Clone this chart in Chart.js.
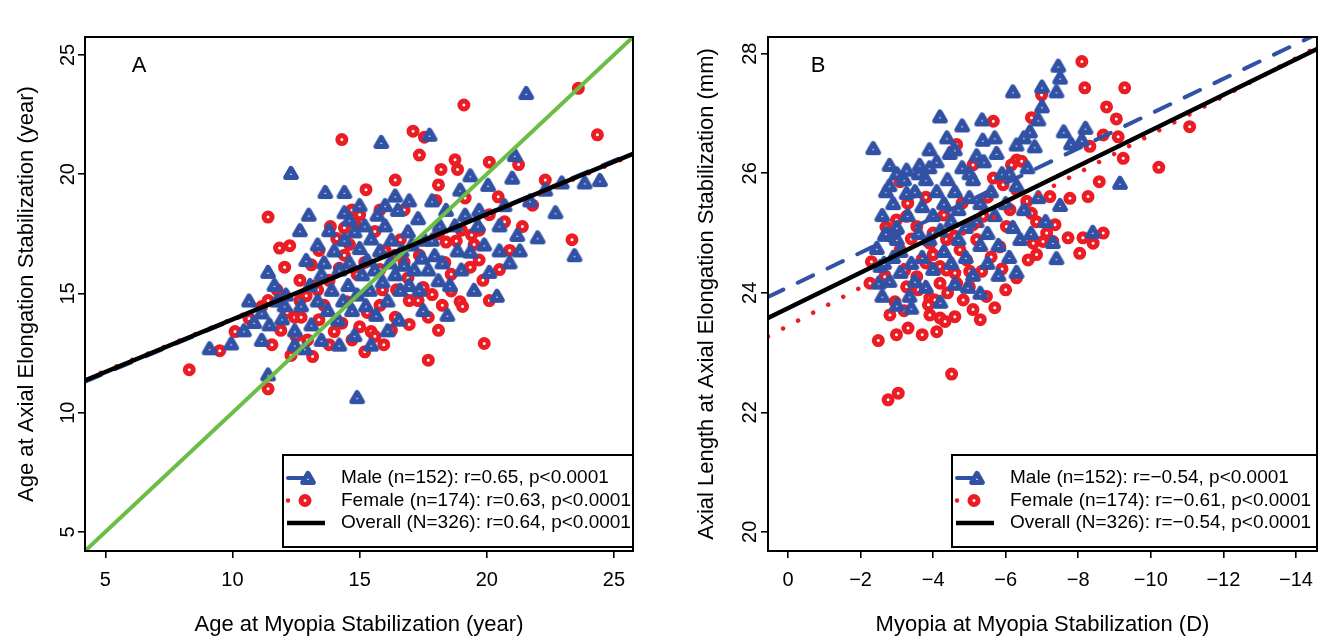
<!DOCTYPE html>
<html><head><meta charset="utf-8">
<script src="https://cdn.jsdelivr.net/npm/chart.js@4.4.1/dist/chart.umd.min.js"></script>
<style>
html,body{margin:0;padding:0;background:#fff;}
#wrap{position:relative;width:1331px;height:643px;overflow:hidden;background:#fff;}
#ca{position:absolute;left:0;top:0;}
#cb{position:absolute;left:665px;top:0;}
</style></head><body>
<div id="wrap"><canvas id="ca" width="665" height="643"></canvas><canvas id="cb" width="666" height="643"></canvas></div>
<script>
// ---------------- DATA ----------------
// Panel A: Age at myopia stabilization (x) vs age at axial elongation stabilization (y), years
const ticksA = [5, 10, 15, 20, 25];
const rangeA = [4.2, 25.75];
const maleA = [[9.1,12.7],[9.95,12.9],[10.45,13.45],[10.65,14.7],[10.85,13.8],[11.15,14.2],[11.4,15.9],[11.4,11.6],[11.65,15.35],[11.75,14.7],[11.95,13.95],[12.3,20.05],[12.1,14.95],[12.45,13.45],[12.65,17.65],[12.7,14.5],[12.9,16.4],[13.05,15.35],[13.1,13.7],[13.35,17.05],[13.35,14.7],[13.5,15.8],[13.65,19.25],[13.6,16.3],[13.75,14.3],[13.9,15.15],[14.0,16.8],[14.15,13.9],[14.2,16.0],[14.35,14.7],[14.4,19.25],[14.4,17.25],[14.55,15.35],[14.6,16.3],[14.7,14.3],[14.8,17.6],[14.9,10.65],[14.9,14.95],[15.0,16.9],[15.1,15.8],[15.2,17.85],[15.25,14.5],[15.3,16.4],[15.4,15.15],[15.45,17.3],[15.6,16.0],[15.65,14.1],[15.8,16.8],[15.85,21.35],[15.9,15.5],[16.0,17.85],[16.1,14.7],[16.2,16.3],[16.25,17.25],[16.4,15.8],[16.5,18.5],[16.6,15.15],[16.65,16.8],[16.75,16.2],[16.9,17.6],[16.95,15.35],[17.05,17.05],[17.15,16.0],[17.3,18.15],[17.35,15.15],[17.45,16.5],[17.55,17.25],[17.7,16.0],[17.75,21.65],[17.85,18.9],[17.95,16.6],[18.1,15.55],[18.15,17.85],[18.25,16.3],[18.4,18.5],[18.55,15.35],[18.75,17.85],[18.85,16.8],[19.0,16.0],[19.15,18.3],[19.35,16.75],[19.5,15.15],[19.65,17.85],[19.7,18.5],[19.9,17.05],[20.1,15.9],[20.4,14.9],[20.5,16.8],[20.7,18.7],[20.9,16.3],[21.0,19.85],[21.1,20.8],[21.2,17.45],[21.3,16.8],[21.55,23.4],[21.7,18.9],[22.0,17.35],[22.3,19.35],[22.7,18.4],[22.95,19.65],[23.45,16.6],[23.85,19.65],[24.45,19.75],[18.45,14.1],[17.5,14.3],[16.55,13.9],[16.1,13.45],[15.45,12.85],[14.8,13.25],[14.2,12.85],[13.5,13.05],[12.85,12.7],[12.45,12.85],[12.05,14.5],[11.45,13.7],[11.15,13.05],[14.6,18.1],[13.8,17.65],[13.0,18.3],[16.4,19.1],[16.95,18.9],[15.0,18.7],[14.4,18.4],[18.95,19.35],[19.35,19.95],[20.05,19.55],[20.5,17.85],[17.85,17.25],[16.0,18.7],[15.7,18.3]];
const femaleA = [[8.3,11.8],[9.5,12.6],[10.1,13.4],[11.4,18.2],[11.4,11.0],[11.4,14.7],[11.85,16.9],[12.05,16.1],[12.25,17.0],[12.15,14.2],[12.45,14.0],[12.7,14.0],[12.95,13.05],[12.3,12.4],[12.5,13.2],[13.15,12.35],[13.2,15.3],[13.4,16.8],[13.85,17.8],[14.1,17.3],[14.3,21.45],[14.4,17.75],[14.6,17.05],[14.7,18.5],[14.8,17.95],[15.0,18.3],[14.5,14.65],[14.3,13.75],[15.0,13.6],[15.45,13.4],[15.3,14.2],[15.6,13.2],[15.8,14.5],[15.9,15.15],[16.25,13.45],[16.4,16.6],[16.45,15.15],[16.75,18.5],[16.75,16.3],[16.95,14.7],[17.1,21.8],[17.3,14.7],[17.35,20.8],[17.55,21.55],[17.7,12.2],[17.85,14.95],[18.0,18.9],[18.1,19.55],[18.1,17.5],[18.2,20.2],[18.25,14.5],[18.4,17.15],[18.75,20.6],[18.85,20.2],[18.95,14.65],[19.1,22.9],[19.15,19.0],[19.35,16.1],[19.4,17.45],[19.7,16.4],[19.85,15.55],[19.9,12.9],[20.1,20.5],[20.45,19.05],[20.7,18.0],[21.25,20.4],[21.4,17.8],[22.3,19.75],[23.35,17.25],[23.6,23.6],[24.35,21.65],[18.8,17.2],[19.0,17.65],[19.5,17.05],[18.6,15.1],[19.05,14.45],[17.5,15.25],[16.9,15.65],[17.35,16.6],[16.6,17.25],[16.0,16.8],[15.8,16.0],[15.2,16.3],[14.9,15.8],[14.2,16.05],[13.8,15.55],[13.35,15.15],[12.9,14.9],[12.65,15.55],[13.1,16.2],[13.6,14.5],[14.0,13.4],[13.4,13.9],[14.7,13.05],[15.2,12.55],[13.8,12.85],[15.8,18.5],[16.4,19.75],[15.25,19.35],[20.1,14.7],[20.5,16.0],[20.9,16.8],[21.8,18.7],[20.1,18.3],[19.7,17.65],[18.35,16.3],[18.6,15.8],[16.4,14.0],[16.95,13.7],[17.7,14.0],[18.1,13.45],[15.95,12.85],[12.65,14.7],[11.75,15.15],[11.15,14.45],[11.9,13.45],[10.65,13.95],[11.55,12.85],[14.4,16.6],[15.6,17.6]];
const identityA = [[4.2,4.2],[25.75,25.75]];
const fitMaleA = [[4.2,11.3],[25.75,20.9]];
const fitFemaleA = [[4.2,11.4],[25.75,20.8]];
const fitOverallA = [[4.2,11.35],[25.75,20.85]];
const legendA = ["Male (n=152): r=0.65, p<0.0001","Female (n=174): r=0.63, p<0.0001","Overall (N=326): r=0.64, p<0.0001"];

// Panel B: Myopia at stabilization (D, x, reversed) vs axial length (mm, y)
const ticksBx = [0, -2, -4, -6, -8, -10, -12, -14];
const ticksBy = [20, 22, 24, 26, 28];
const rangeBx = [-14.58, 0.55];
const rangeBy = [19.68, 28.28];
const maleB = [[-2.35,26.42],[-2.8,26.14],[-3.27,26.06],[-3.63,26.14],[-3.9,26.1],[-4.19,26.95],[-4.38,26.6],[-4.46,26.34],[-5.0,26.0],[-5.35,26.9],[-5.37,26.56],[-5.75,26.34],[-6.2,27.37],[-6.3,26.48],[-6.67,26.7],[-6.8,26.45],[-7.0,27.45],[-7.0,27.12],[-7.4,27.37],[-7.5,27.6],[-7.45,27.8],[-7.6,26.7],[-7.8,26.5],[-8.1,26.56],[-8.2,26.76],[-9.15,25.84],[-7.5,25.47],[-8.4,25.02],[-7.3,24.85],[-7.4,24.58],[-2.5,24.17],[-2.67,24.97],[-3.0,24.9],[-2.55,24.45],[-2.45,24.75],[-3.0,23.8],[-3.35,23.95],[-4.96,24.1],[-2.6,25.3],[-2.7,25.7],[-3.27,25.67],[-2.9,24.6],[-2.8,24.2],[-2.7,25.0],[-2.65,24.5],[-2.6,23.95],
 [-2.9,25.5],[-3.0,25.1],[-3.1,24.7],[-3.2,25.9],[-3.3,25.3],[-3.4,24.5],[-3.5,25.7],[-3.6,25.0],[-3.7,24.6],[-3.7,25.45],[-3.8,25.9],[-3.9,24.9],[-4.0,25.3],[-4.0,24.4],[-4.1,25.7],[-4.2,25.05],[-4.3,24.7],[-4.3,25.5],[-4.4,25.9],[-4.5,25.2],[-4.5,24.5],[-4.6,25.7],[-4.7,24.9],[-4.7,25.4],[-4.8,26.1],[-4.9,24.6],[-4.9,25.1],[-5.0,25.6],[-5.1,24.3],[-5.1,25.9],[-5.2,25.2],[-5.3,24.8],[-5.3,25.5],[-5.4,26.2],[-5.5,24.5],[-5.5,25.0],[-5.6,25.7],[-5.7,25.3],[-5.8,24.8],[-5.9,26.0],[-6.0,25.5],[-6.1,24.6],[-6.2,25.1],[-6.3,25.8],[-6.4,24.9],[-6.5,25.4],[-6.6,26.1],[-6.7,25.0],[-6.9,25.6],[-7.1,25.2],[-3.4,23.75],[-3.8,24.1],[-4.2,23.85],[-4.6,24.15],[-5.3,24.0],[-5.8,24.3],[-6.3,24.35],[-3.1,24.35],[-3.5,24.2],[-2.8,25.8],[-3.0,26.0],[-3.6,26.0],[-4.1,26.2],[-4.6,26.4],[-5.2,26.3],[-5.7,26.6],[-6.1,26.0],[-6.5,26.6],[-6.9,26.9],[-4.8,26.8],[-3.9,26.4]];
const femaleB = [[-8.1,27.87],[-8.18,27.43],[-9.28,27.43],[-8.78,27.11],[-9.05,26.91],[-8.69,26.64],[-9.1,26.61],[-8.32,26.45],[-9.24,26.25],[-11.07,26.78],[-10.22,26.1],[-8.58,25.86],[-8.27,25.61],[-7.77,25.58],[-7.22,25.61],[-6.85,25.19],[-7.36,25.14],[-7.13,25.0],[-6.76,24.83],[-7.03,24.86],[-7.72,24.92],[-8.13,24.92],[-8.41,24.83],[-8.69,25.0],[-8.04,24.66],[-6.85,24.64],[-6.62,24.55],[-7.3,24.86],
 [-5.66,26.87],[-4.65,26.48],[-5.1,26.14],[-3.09,25.86],[-6.71,26.93],[-6.99,27.31],[-6.3,26.22],[-6.44,26.2],[-6.16,26.14],[-5.66,25.92],[-5.93,25.81],[-6.3,25.72],[-6.58,25.53],[-6.71,25.33],[-6.12,25.39],[-6.02,25.11],[-5.38,25.28],[-5.1,25.14],[-5.2,24.89],[-4.74,24.72],[-4.37,24.89],[-3.91,24.83],[-3.55,25.11],[-3.27,25.28],[-2.99,25.22],[-2.85,24.94],[-3.09,24.72],[-2.26,24.16],[-3.22,24.38],[-3.55,24.27],[-4.19,24.44],[-4.6,24.33],[-5.01,24.36],[-5.34,24.36],[-4.19,24.16],[-4.65,24.16],[-5.47,23.94],[-4.83,23.88],[-3.59,24.05],
 [-2.49,23.2],[-2.99,23.3],[-3.31,23.41],[-2.76,22.21],[-3.04,22.32],[-4.51,22.64],[-2.81,23.63],[-2.95,23.85],[-3.91,23.91],[-4.05,23.88],[-3.87,23.8],[-3.91,23.63],[-4.19,23.58],[-4.33,23.52],[-5.1,23.72],[-4.37,24.38],[-3.27,24.1],[-2.67,24.27],[-2.3,24.52],[-4.0,24.64],[-4.92,24.55],[-5.84,24.77],
 [-3.3,25.5],[-3.8,25.6],[-4.3,25.3],[-4.8,25.5],[-5.5,25.6],[-4.0,25.0],[-4.6,24.95],[-5.6,24.6],[-3.4,24.9],[-2.7,25.1],[-3.7,23.3],[-4.1,23.35],[-4.6,23.6],[-5.3,23.55],[-5.7,23.75],[-6.0,24.05],[-6.3,24.25],[-4.4,24.0],[-3.2,23.7],[-5.0,24.1],[-5.9,24.4],[-3.8,24.5]];
const fitMaleB = [[0.55,23.93],[-14.58,28.33]];
const fitFemaleB = [[0.55,23.27],[-14.58,28.11]];
const fitOverallB = [[0.55,23.58],[-14.58,28.08]];
const legendB = ["Male (n=152): r=\u22120.54, p<0.0001","Female (n=174): r=\u22120.61, p<0.0001","Overall (N=326): r=\u22120.54, p<0.0001"];

// ---------------- STYLE ----------------
const FONT = '"Liberation Sans", Arial, Helvetica, sans-serif';
const BLUE = '#3152a4', RED = '#ec1c24', GREEN = '#6cbd45', BLACK = '#000000';
const MALE_DASH = [17, 16], FEMALE_DASH = [0.01, 17];

function triangleImage(color) {
  const c = document.createElement('canvas'); c.width = 20; c.height = 18;
  const g = c.getContext('2d');
  g.lineJoin = 'round'; g.lineWidth = 5;
  g.beginPath(); g.moveTo(10, 4.3); g.lineTo(15.3, 13.5); g.lineTo(4.7, 13.5); g.closePath();
  g.fillStyle = '#fff'; g.fill(); g.strokeStyle = color; g.stroke();
  return c;
}
const TRI = triangleImage(BLUE);
const xy = arr => arr.map(p => ({x: p[0], y: p[1]}));
const fmt = v => (v < 0 ? '\u2212' + Math.abs(v) : String(v));

function lineDS(label, pts, color, width, dash, cap, order) {
  return {label, data: xy(pts), showLine: true, pointRadius: 0, borderColor: color, borderWidth: width,
    borderDash: dash, borderCapStyle: cap, order, clip: 0, fill: false};
}
function ptsDS(label, pts, order, isMale) {
  return isMale
    ? {label, data: xy(pts), showLine: false, pointStyle: TRI, pointRadius: 7, order,
       pointBackgroundColor: '#fff', pointBorderColor: BLUE, pointBorderWidth: 0}
    : {label, data: xy(pts), showLine: false, pointStyle: 'circle', pointRadius: 4, order,
       pointBackgroundColor: '#fff', pointBorderColor: RED, pointBorderWidth: 5};
}

function framePlugin(cfg) {
  return {
    id: 'frame' + cfg.letter,
    afterDraw(chart) {
      const {ctx, chartArea: a} = chart;
      ctx.save();
      ctx.strokeStyle = BLACK; ctx.lineWidth = 2;
      ctx.strokeRect(a.left, a.top, a.right - a.left, a.bottom - a.top);
      ctx.fillStyle = BLACK; ctx.font = '22px ' + FONT; ctx.textAlign = 'center'; ctx.textBaseline = 'middle';
      ctx.fillText(cfg.letter, a.left + cfg.letterDx, a.top + 29);
      // legend box
      const R = a.right, B = a.bottom - 4, T = B - 92, L = R - cfg.legendW;
      ctx.fillStyle = '#fff'; ctx.fillRect(L, T, R - L, B - T);
      ctx.strokeRect(L, T, R - L, B - T);
      const rows = [T + 23, T + 45.5, T + 68];
      ctx.font = '19px ' + FONT; ctx.textAlign = 'left';
      // male
      ctx.lineWidth = 4; ctx.strokeStyle = BLUE; ctx.setLineDash(MALE_DASH); ctx.lineCap = 'round';
      ctx.beginPath(); ctx.moveTo(L + 5, rows[0]); ctx.lineTo(L + 32, rows[0]); ctx.stroke();
      ctx.setLineDash([]);
      ctx.drawImage(TRI, L + 25 - 10, rows[0] - 9);
      // female
      ctx.strokeStyle = RED; ctx.setLineDash(FEMALE_DASH); ctx.lineWidth = 4.5;
      ctx.beginPath(); ctx.moveTo(L + 5, rows[1]); ctx.lineTo(L + 30, rows[1]); ctx.stroke();
      ctx.setLineDash([]);
      ctx.lineWidth = 5; ctx.fillStyle = '#fff';
      ctx.beginPath(); ctx.arc(L + 22, rows[1], 4, 0, Math.PI * 2); ctx.fill(); ctx.stroke();
      // overall
      ctx.strokeStyle = BLACK; ctx.lineWidth = 4.5; ctx.lineCap = 'butt';
      ctx.beginPath(); ctx.moveTo(L + 4, rows[2]); ctx.lineTo(L + 42, rows[2]); ctx.stroke();
      ctx.fillStyle = BLACK;
      for (let i = 0; i < 3; i++) ctx.fillText(cfg.legend[i], L + 58, rows[i]);
      ctx.restore();
    }
  };
}

function makePanel(id, cfg) {
  return new Chart(document.getElementById(id), {
    type: 'scatter',
    data: {datasets: cfg.datasets},
    options: {
      responsive: false, animation: false, devicePixelRatio: 1, events: [],
      layout: {padding: cfg.padding},
      plugins: {legend: {display: false}, tooltip: {enabled: false}},
      scales: {
        x: {
          type: 'linear', min: cfg.xRange[0], max: cfg.xRange[1], reverse: !!cfg.xReverse,
          afterBuildTicks: s => { s.ticks = cfg.xTicks.map(v => ({value: v})); },
          afterFit: s => { s.height = 92; },
          border: {display: false},
          grid: {display: true, drawOnChartArea: false, drawTicks: true, tickLength: 7, lineWidth: 1.6, color: BLACK},
          ticks: {color: BLACK, font: {family: FONT, size: 20}, padding: 10, autoSkip: false, maxRotation: 0, callback: fmt},
          title: {display: true, text: cfg.xTitle, color: BLACK, font: {family: FONT, size: 22}, padding: {top: 0, bottom: 5}}
        },
        y: {
          type: 'linear', min: cfg.yRange[0], max: cfg.yRange[1],
          afterBuildTicks: s => { s.ticks = cfg.yTicks.map(v => ({value: v})); },
          afterFit: s => { s.width = cfg.yAxisWidth; },
          border: {display: false},
          grid: {display: true, drawOnChartArea: false, drawTicks: true, tickLength: 7, lineWidth: 1.6, color: BLACK},
          ticks: {color: BLACK, font: {family: FONT, size: 20}, padding: cfg.yTickPad, autoSkip: false,
                  minRotation: 90, maxRotation: 90, crossAlign: 'center', callback: fmt},
          title: {display: true, text: cfg.yTitle, color: BLACK, font: {family: FONT, size: 22}, padding: {top: cfg.yTitlePad, bottom: 0}}
        }
      }
    },
    plugins: [framePlugin(cfg)]
  });
}

makePanel('ca', {
  letter: 'A', letterDx: 54, legendW: 350, legend: legendA,
  padding: {left: 0, right: 32, top: 37, bottom: 0}, yAxisWidth: 85, yTickPad: -2, yTitlePad: 14,
  xRange: rangeA, yRange: rangeA, xTicks: ticksA, yTicks: ticksA,
  xTitle: 'Age at Myopia Stabilization (year)', yTitle: 'Age at Axial Elongation Stabilization (year)',
  datasets: [
    lineDS('Overall', fitOverallA, BLACK, 4.5, [], 'butt', 0),
    lineDS('Identity', identityA, GREEN, 4, [], 'butt', 1),
    lineDS('Male fit', fitMaleA, BLUE, 4, MALE_DASH, 'round', 2),
    lineDS('Female fit', fitFemaleA, RED, 4.5, FEMALE_DASH, 'round', 3),
    ptsDS(legendA[0], maleA, 4, true),
    ptsDS(legendA[1], femaleA, 5, false)
  ]
});

makePanel('cb', {
  letter: 'B', letterDx: 50, legendW: 365, legend: legendB,
  padding: {left: 0, right: 14, top: 37, bottom: 0}, yAxisWidth: 103, yTickPad: -1, yTitlePad: 29,
  xRange: rangeBx, yRange: rangeBy, xReverse: true, xTicks: ticksBx, yTicks: ticksBy,
  xTitle: 'Myopia at Myopia Stabilization (D)', yTitle: 'Axial Length at Axial Elongation Stabilization (mm)',
  datasets: [
    lineDS('Overall', fitOverallB, BLACK, 4.5, [], 'butt', 0),
    lineDS('Male fit', fitMaleB, BLUE, 4, MALE_DASH, 'round', 2),
    lineDS('Female fit', fitFemaleB, RED, 4.5, FEMALE_DASH, 'round', 3),
    ptsDS(legendB[0], maleB, 4, true),
    ptsDS(legendB[1], femaleB, 5, false)
  ]
});
</script>
</body></html>
